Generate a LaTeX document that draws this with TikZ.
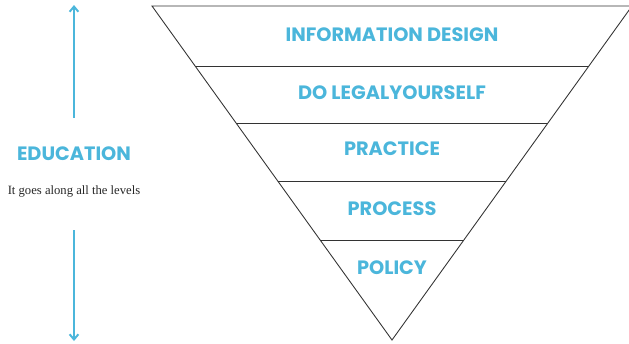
\documentclass[tikz,border=0pt]{standalone}
\usepackage{fontspec}
\setmainfont{Liberation Serif}
\newfontfamily\levelfont{Poppins}
\usetikzlibrary{arrows.meta}
\definecolor{edublue}{HTML}{4BB6DB}
\begin{document}
\begin{tikzpicture}[
        x=0.02cm, y=-0.02cm,
        level/.style={font=\levelfont\bfseries\fontsize{11}{13}\selectfont, text=edublue},
        edge/.style={draw=black!80, line width=0.5pt},
        arrow/.style={-{Straight Barb[length=3pt, width=5pt]}, draw=edublue, line width=1.1pt},
        note/.style={font=\fontsize{7.2}{9}\selectfont, text=black!85}
    ]
    \useasboundingbox (0,0) rectangle (629,343);

    % Funnel corners
    \coordinate (tl) at (152,6);
    \coordinate (tr) at (632,6);
    \coordinate (apex) at (392,340);
    \begin{scope}
    \clip (0,0) rectangle (629,343);
    \draw[edge] (tl) -- (tr) -- (apex) -- cycle;
    \end{scope}

    % Layer separators
    \coordinate (l1) at (195.1,66);  \coordinate (r1) at (588.9,66);
    \coordinate (l2) at (236.1,123); \coordinate (r2) at (547.9,123);
    \coordinate (l3) at (277.8,181); \coordinate (r3) at (506.2,181);
    \coordinate (l4) at (320.2,240); \coordinate (r4) at (463.8,240);
    \draw[edge] (l1) -- (r1);
    \draw[edge] (l2) -- (r2);
    \draw[edge] (l3) -- (r3);
    \draw[edge] (l4) -- (r4);

    % Levels
    \node (info) at (392,35) [level] {INFORMATION DESIGN};
    \node (dly) at (392,93) [level] {DO LEGALYOURSELF};
    \node (practice) at (392,149) [level] {PRACTICE};
    \node (process) at (392,209) [level] {PROCESS};
    \node (policy) at (392,268) [level] {POLICY};

    % Education side
    \node (edu) at (74,154) [level] {EDUCATION};
    \node (along) at (74,191) [note] {It goes along all the levels};
    \coordinate (upstart) at (74,118);
    \coordinate (upend) at (74,5);
    \coordinate (downstart) at (74,230);
    \coordinate (downend) at (74,341);
    \draw[arrow] (upstart) -- (upend);
    \draw[arrow] (downstart) -- (downend);

\end{tikzpicture}
\end{document}
